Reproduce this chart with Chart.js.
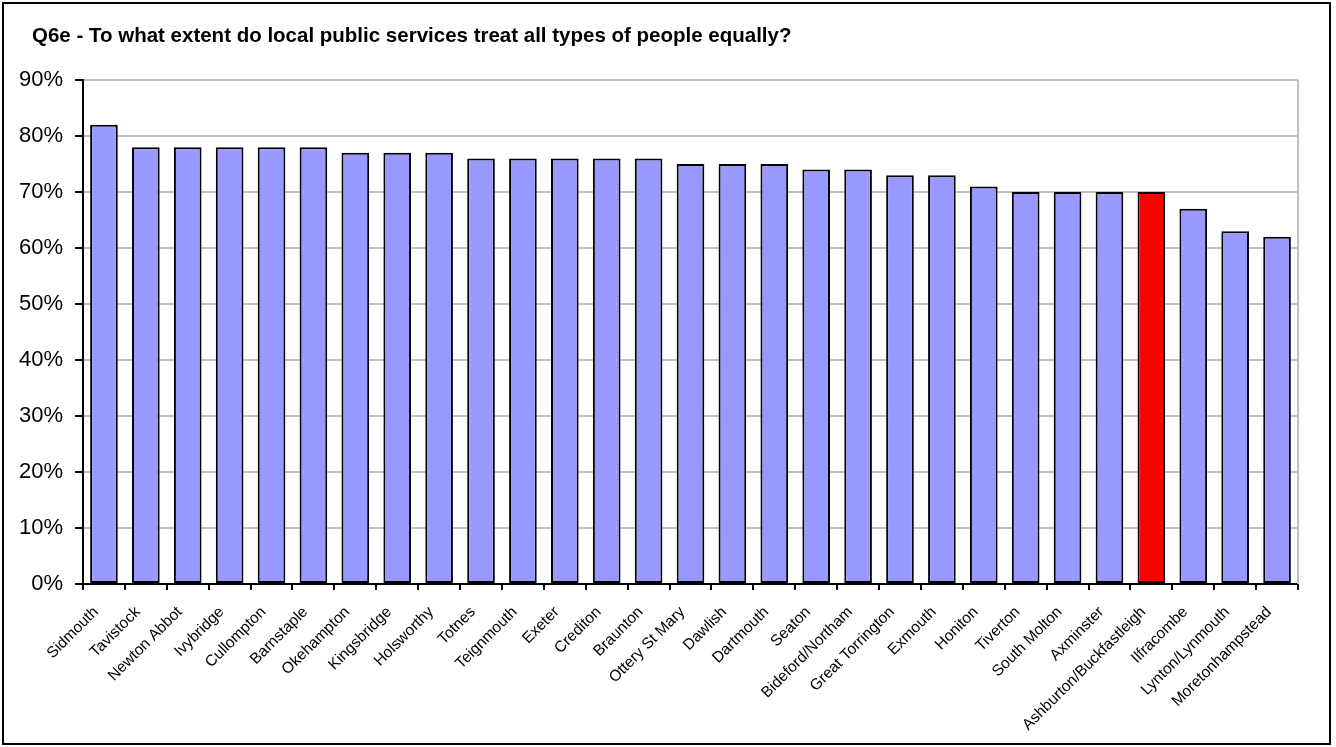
<!DOCTYPE html>
<html>
<head>
<meta charset="utf-8">
<script src="https://cdn.jsdelivr.net/npm/chart.js@4"></script>
<style>
  html, body { margin: 0; padding: 0; background: #fff; }
  #wrap { width: 1336px; height: 747px; }
</style>
</head>
<body>
<div id="wrap"><canvas id="barchart" width="1336" height="747"></canvas></div>
<script>
const title = 'Q6e - To what extent do local public services treat all types of people equally?';
const towns = ['Sidmouth', 'Tavistock', 'Newton Abbot', 'Ivybridge', 'Cullompton', 'Barnstaple',
    'Okehampton', 'Kingsbridge', 'Holsworthy', 'Totnes', 'Teignmouth', 'Exeter', 'Crediton',
    'Braunton', 'Ottery St Mary', 'Dawlish', 'Dartmouth', 'Seaton', 'Bideford/Northam',
    'Great Torrington', 'Exmouth', 'Honiton', 'Tiverton', 'South Molton', 'Axminster',
    'Ashburton/Buckfastleigh', 'Ilfracombe', 'Lynton/Lynmouth', 'Moretonhampstead'];
const percents = [82, 78, 78, 78, 78, 78, 77, 77, 77, 76, 76, 76, 76, 76, 75, 75, 75, 74, 74,
    73, 73, 71, 70, 70, 70, 70, 67, 63, 62];
const highlightTown = 'Ashburton/Buckfastleigh';
const yTicks = [0, 10, 20, 30, 40, 50, 60, 70, 80, 90];

const font = '"Liberation Sans", Arial, sans-serif';

// outer frame, title and the grey right edge of the plot
const framePlugin = {
    id: 'frame',
    afterDraw(chart) {
        const c = chart.ctx;
        const area = chart.chartArea;
        c.save();
        c.strokeStyle = '#c0c0c0';
        c.lineWidth = 2;
        c.beginPath();
        c.moveTo(area.right, area.top);
        c.lineTo(area.right, area.bottom);
        c.stroke();
        c.strokeStyle = '#000';
        c.lineWidth = 2;
        c.strokeRect(3, 3, 1327, 741);
        c.fillStyle = '#000';
        c.font = 'bold 20.5px ' + font;
        c.textBaseline = 'middle';
        c.textAlign = 'left';
        c.fillText(title, 32, 36);
        c.restore();
    }
};

const ctx = document.getElementById('barchart').getContext('2d');
const barchart = new Chart(ctx, {
    type: 'bar',
    data: {
        labels: towns,
        datasets: [{
            data: percents,
            backgroundColor: towns.map(t => t === highlightTown ? '#ff0000' : '#9999ff'),
            borderColor: '#000',
            borderWidth: 2,
            borderSkipped: false,
            barPercentage: 0.66,
            categoryPercentage: 1
        }]
    },
    options: {
        responsive: false,
        animation: false,
        layout: { padding: { left: 0, right: 38, top: 80, bottom: 0 } },
        plugins: {
            legend: { display: false },
            title: { display: false },
            tooltip: { enabled: false }
        },
        scales: {
            x: {
                afterFit(scale) { scale.height = 163; },
                grid: { drawOnChartArea: false, offset: true, tickColor: '#000', tickLength: 6, lineWidth: 2 },
                border: { color: '#000', width: 2 },
                ticks: {
                    color: '#000',
                    font: { family: font, size: 15.5 },
                    maxRotation: 45,
                    minRotation: 45,
                    autoSkip: false,
                    padding: 13,
                    labelOffset: -8
                }
            },
            y: {
                min: 0,
                max: 90,
                afterFit(scale) { scale.width = 83; },
                afterBuildTicks(scale) { scale.ticks = yTicks.map(v => ({ value: v })); },
                grid: { color: '#c0c0c0', lineWidth: 2, tickColor: '#000', tickLength: 8 },
                border: { color: '#000', width: 2 },
                ticks: {
                    color: '#000',
                    font: { family: font, size: 22 },
                    padding: 12,
                    callback: v => v + '%'
                }
            }
        }
    },
    plugins: [framePlugin]
});
</script>
</body>
</html>
